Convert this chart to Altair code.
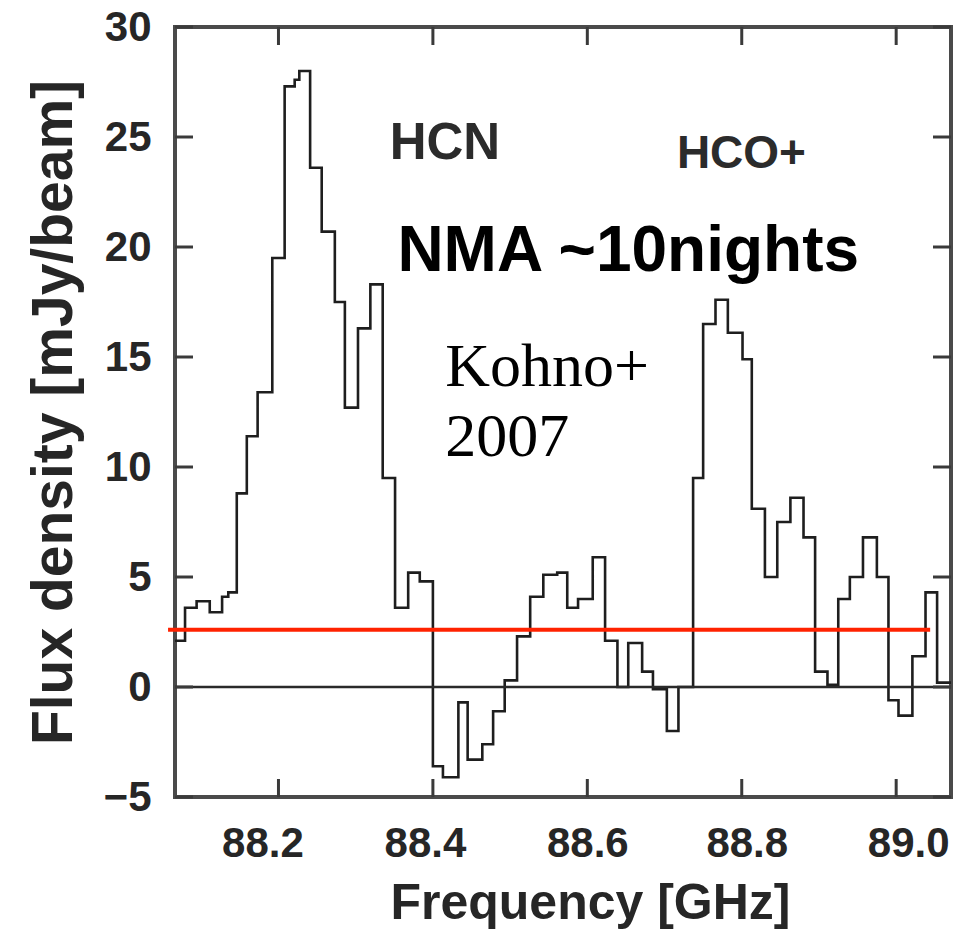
import altair as alt
import pandas as pd

# Spectrum: left edge of each channel (GHz) and flux density (mJy/beam)
freq = [88.066, 88.079, 88.094, 88.111, 88.127, 88.135, 88.146, 88.159, 88.173, 88.192,
        88.208, 88.221, 88.227, 88.241, 88.256, 88.273, 88.286, 88.303, 88.319, 88.335,
        88.351, 88.368, 88.383, 88.400, 88.413, 88.433, 88.445, 88.464, 88.478, 88.493,
        88.509, 88.526, 88.543, 88.561, 88.574, 88.588, 88.607, 88.623, 88.639, 88.653,
        88.671, 88.685, 88.703, 88.718, 88.737, 88.750, 88.766, 88.782, 88.801, 88.813,
        88.830, 88.846, 88.863, 88.880, 88.895, 88.911, 88.925, 88.940, 88.957, 88.975,
        88.990, 89.003, 89.021, 89.038, 89.053, 89.071]
flux = [2.1, 3.6, 3.9, 3.4, 4.1, 4.3, 8.8, 11.4, 13.4, 19.5,
        27.3, 27.6, 28.0, 23.6, 20.7, 17.5, 12.7, 16.3, 18.3, 9.5,
        3.6, 5.2, 4.8, -3.6, -4.1, -0.7, -3.3, -2.6, -1.1, 0.3,
        2.3, 4.1, 5.1, 5.2, 3.6, 4.0, 5.9, 2.1, 0.0, 2.0,
        0.7, -0.1, -2.0, 0.0, 9.5, 16.5, 17.6, 16.1, 14.9, 8.1,
        5.0, 7.5, 8.6, 6.8, 0.7, 0.1, 4.0, 5.0, 6.8, 5.0,
        -0.6, -1.3, 1.4, 4.3, 0.2, 0.2]

x_ticks = [88.2, 88.4, 88.6, 88.8, 89.0]
y_ticks = [-5, 0, 5, 10, 15, 20, 25, 30]

# Noise level (red line)
noise_level = [2.6]
noise_from = [88.057]
noise_to = [89.044]

W, H = 776, 770
TICK = 18

spec_df = pd.DataFrame({"freq": freq, "flux": flux})
xs = alt.Scale(domain=[88.066, 89.071], nice=False, zero=False)
ys = alt.Scale(domain=[-5, 30], nice=False, zero=False)

x_label_offset = {
    "condition": [
        {"test": "datum.value < 88.3", "value": -16},
        {"test": "datum.value < 88.5", "value": -8},
        {"test": "datum.value > 88.9", "value": 12},
        {"test": "datum.value > 88.7", "value": 5},
    ],
    "value": 0,
}

XAX = alt.Axis(values=x_ticks, format=".1f", title="Frequency [GHz]",
               labelPadding=26, titlePadding=14, titleX=415,
               labelOffset=x_label_offset)
YAX = alt.Axis(values=y_ticks, title="Flux density [mJy/beam]",
               labelPadding=24, titlePadding=20)

sans = "Liberation Sans"

def X(field):
    return alt.X(field, scale=xs, axis=XAX)

def Y(field):
    return alt.Y(field, scale=ys, axis=YAX)

line = alt.Chart(spec_df).mark_line(
    interpolate="step-after", color="#1e1e1e", strokeWidth=2.6, clip=True
).encode(x=X("freq:Q"), y=Y("flux:Q"))

ytdf = pd.DataFrame({"flux": y_ticks})
xtdf = pd.DataFrame({"freq": x_ticks})
tick_style = dict(color="#3a3a3a", strokeWidth=3)
left_t = alt.Chart(ytdf).mark_rule(**tick_style).encode(
    y=Y("flux:Q"), x=alt.value(0), x2=alt.value(TICK))
right_t = alt.Chart(ytdf).mark_rule(**tick_style).encode(
    y=Y("flux:Q"), x=alt.value(W - TICK), x2=alt.value(W))
top_t = alt.Chart(xtdf).mark_rule(**tick_style).encode(
    x=X("freq:Q"), y=alt.value(0), y2=alt.value(TICK))
bot_t = alt.Chart(xtdf).mark_rule(**tick_style).encode(
    x=X("freq:Q"), y=alt.value(H - TICK), y2=alt.value(H))

zero = alt.Chart(pd.DataFrame({"flux": [0]})).mark_rule(color="#2a2a2a", strokeWidth=2.5).encode(
    y=Y("flux:Q"))

red = alt.Chart(pd.DataFrame({"freq": noise_from, "freq2": noise_to, "flux": noise_level})).mark_rule(
    color="#ff2200", strokeWidth=4, clip=False
).encode(x=X("freq:Q"), x2="freq2:Q", y=Y("flux:Q"))

def label(txt, f, v, size, font, weight, color):
    return alt.Chart(pd.DataFrame({"t": [txt], "freq": [f], "flux": [v]})).mark_text(
        align="left", baseline="alphabetic", fontSize=size, font=font,
        fontWeight=weight, color=color
    ).encode(x=X("freq:Q"), y=Y("flux:Q"), text="t:N")

t_hcn = label("HCN", 88.344, 24.0, 51, sans, "bold", "#2b2b2b")
t_hco = label("HCO+", 88.716, 23.6, 46, sans, "bold", "#2b2b2b")
t_nma = label("NMA ~10nights", 88.354, 18.9, 64, sans, "bold", "#000000")
t_k1 = label("Kohno+", 88.416, 13.7, 62, "Liberation Serif", "normal", "#000000")
t_k2 = label("2007", 88.416, 10.5, 62, "Liberation Serif", "normal", "#000000")

chart = alt.layer(
    line, zero, left_t, right_t, top_t, bot_t, red, t_hcn, t_hco, t_nma, t_k1, t_k2
).properties(
    width=W, height=H,
    autosize=alt.AutoSizeParams(type="none"),
    padding={"left": 175, "top": 27, "right": 20, "bottom": 135},
    background="white",
).configure_view(
    stroke="#4a4a4a", strokeWidth=4
).configure_axis(
    ticks=False, domain=False, grid=False,
    labelFont=sans, labelFontWeight="bold", labelFontSize=42, labelColor="#262626",
    titleFont=sans, titleFontWeight="bold", titleFontSize=50, titleColor="#262626",
).configure_axisY(titleFontSize=57)

chart.save("out.html", embed_options={"renderer": "svg", "actions": False})
